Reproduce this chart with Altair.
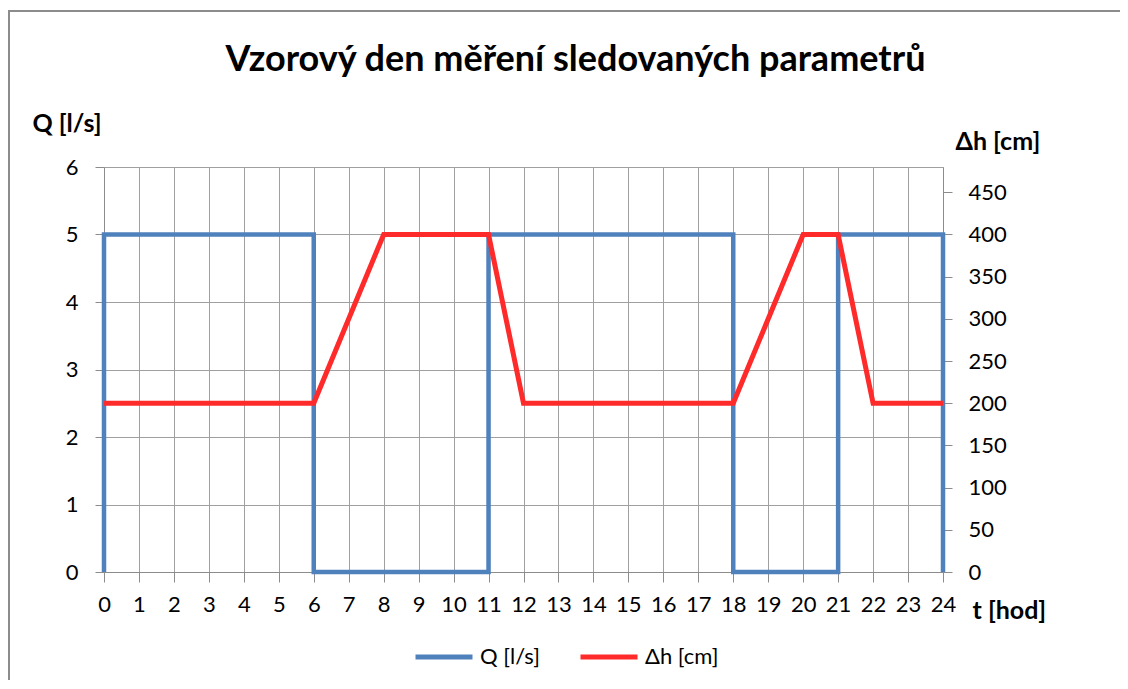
import altair as alt
import pandas as pd

# ---- data ----
t_q = [0, 0, 6, 6, 11, 11, 18, 18, 21, 21, 24, 24]
q_vals = [0, 5, 5, 0, 0, 5, 5, 0, 0, 5, 5, 0]
t_h = [0, 6, 8, 11, 12, 18, 20, 21, 22, 24]
h_vals = [200, 200, 400, 400, 200, 200, 400, 400, 200, 200]
x_ticks = list(range(0, 25))
q_ticks = [0, 1, 2, 3, 4, 5, 6]
h_ticks = [0, 50, 100, 150, 200, 250, 300, 350, 400, 450]
series = ["Q [l/s]", "Δh [cm]"]
colors = ["#4F81BD", "#FF2A2A"]

dq = pd.DataFrame({"t": t_q, "v": q_vals, "i": list(range(len(t_q))), "s": series[0]})
dh = pd.DataFrame({"t": t_h, "v": h_vals, "i": list(range(len(t_h))), "s": series[1]})

FONT = "Lato"
GRID = "#A0A0A0"
AX = "#8C8C8C"
LBL = 22
TTL = 25

color = alt.Color(
    "s:N",
    scale=alt.Scale(domain=series, range=colors),
    legend=alt.Legend(
        title=None,
        orient="none",
        direction="horizontal",
        legendX=309,
        legendY=459,
        symbolType="stroke",
        symbolSize=3249,
        symbolStrokeWidth=5,
        labelFont=FONT,
        labelFontSize=LBL,
        labelColor="#000000",
        labelOffset=5,
        columnPadding=30,
    ),
)

xscale = alt.Scale(domain=[0, 24], nice=False)
xaxis = alt.Axis(
    values=x_ticks,
    title="t [hod]",
    titleX=868,
    titleY=38,
    titleAlign="left",
    titleBaseline="middle",
    titleFont=FONT,
    titleFontSize=TTL,
    titleFontWeight="bold",
    titleColor="#000000",
    labelFont=FONT,
    labelFontSize=LBL,
    labelColor="#000000",
    labelPadding=12,
    labelFlush=False,
    labelOverlap=False,
    tickSize=10,
    tickColor=AX,
    domainColor=AX,
    grid=True,
    gridColor=GRID,
)

base_q = alt.Chart(dq).mark_line(strokeWidth=4.5).encode(
    x=alt.X("t:Q", scale=xscale, axis=xaxis),
    y=alt.Y(
        "v:Q",
        scale=alt.Scale(domain=[0, 6], nice=False),
        axis=alt.Axis(
            values=q_ticks,
            orient="left",
            title="Q [l/s]",
            titleAngle=0,
            titleX=-72,
            titleY=-44,
            titleAlign="left",
            titleBaseline="middle",
            titleFont=FONT,
            titleFontSize=TTL,
            titleFontWeight="bold",
            titleColor="#000000",
            labelFont=FONT,
            labelFontSize=LBL,
            labelColor="#000000",
            labelPadding=17,
            tickSize=9,
            tickColor=AX,
            domainColor=AX,
            grid=True,
            gridColor=GRID,
        ),
    ),
    color=color,
    order="i:Q",
)

base_h = alt.Chart(dh).mark_line(strokeWidth=5).encode(
    x=alt.X("t:Q", scale=xscale, axis=xaxis),
    y=alt.Y(
        "v:Q",
        scale=alt.Scale(domain=[0, 480], nice=False),
        axis=alt.Axis(
            values=h_ticks,
            orient="right",
            title="Δh [cm]",
            titleAngle=0,
            titleX=12,
            titleY=-26,
            titleAlign="left",
            titleBaseline="middle",
            titleFont=FONT,
            titleFontSize=TTL,
            titleFontWeight="bold",
            titleColor="#000000",
            labelFont=FONT,
            labelFontSize=LBL,
            labelColor="#000000",
            labelPadding=16,
            tickSize=9,
            tickColor=AX,
            domainColor=AX,
            grid=False,
        ),
    ),
    color=color,
    order="i:Q",
)

# chart-area border (left and top edges visible in the reference)
one = pd.DataFrame({"a": [0]})
frame_left = alt.Chart(one).mark_rule(stroke="#8C8C8C", strokeWidth=2).encode(
    x=alt.value(-95), y=alt.value(-156), y2=alt.value(520)
)
frame_top = alt.Chart(one).mark_rule(stroke="#8C8C8C", strokeWidth=2).encode(
    x=alt.value(-96), x2=alt.value(1030), y=alt.value(-156)
)

chart = (
    alt.layer(frame_left, frame_top, base_q, base_h)
    .resolve_scale(y="independent")
    .properties(
        width=839,
        height=405,
        padding={"left": 96, "top": 159, "right": 177, "bottom": 108},
        autosize=alt.AutoSizeParams(type="none"),
        title=alt.TitleParams(
            "Vzorový den měření sledovaných parametrů",
            font=FONT,
            fontSize=36,
            fontWeight="bold",
            color="#000000",
            anchor="middle",
            dx=52,
            dy=86,
            offset=0,
            baseline="middle",
        ),
    )
    .configure_view(stroke=None)
    .configure(background="white")
)

chart.save("out.html", embed_options={"renderer": "svg", "actions": False})
